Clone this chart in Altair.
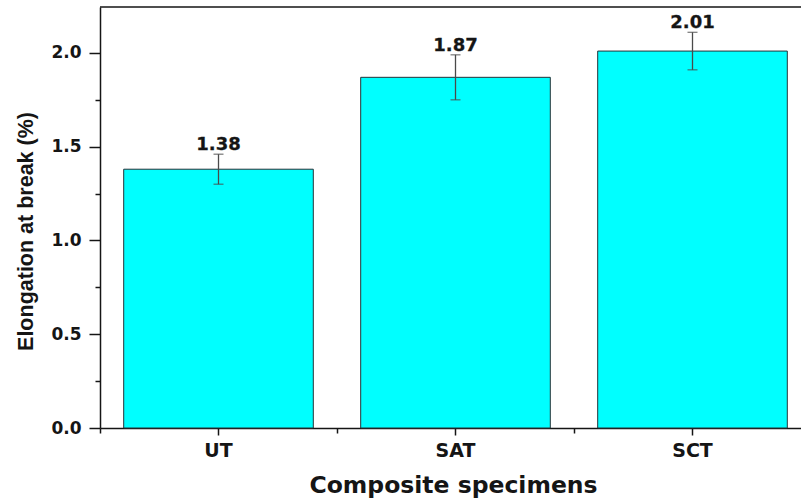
import altair as alt
import pandas as pd

# Elongation at break for the three composite specimens
specimens = ["UT", "SAT", "SCT"]
elongation = [1.38, 1.87, 2.01]
std_dev = [0.08, 0.12, 0.10]

df = pd.DataFrame({
    "specimen": specimens,
    "value": elongation,
    "err": std_dev,
})
df["lo"] = df["value"] - df["err"]
df["hi"] = df["value"] + df["err"]
df["label"] = [f"{v:.2f}" for v in elongation]

INK = "#151515"
LABEL_FONT = "DejaVu Sans"

# band layout: 711 px range, step 237 px, bars 80 % of the step
PAD_INNER = 0.2
PAD_OUTER = 0.1
RANGE_W = 711
STEP = RANGE_W / (len(specimens) - PAD_INNER + 2 * PAD_OUTER)

x_scale = alt.Scale(domain=specimens, range=[0, RANGE_W],
                    paddingInner=PAD_INNER, paddingOuter=PAD_OUTER)
y_scale = alt.Scale(domain=[0, 2.245], nice=False, zero=True)

main_x_axis = alt.Axis(
    orient="bottom", labelAngle=0, tickSize=7, tickWidth=1.5, tickColor=INK,
    domainWidth=1.5, domainColor=INK, labelPadding=6,
    labelFont=LABEL_FONT, labelFontWeight="bold", labelFontSize=19, labelColor=INK,
    title="Composite specimens", titleFont=LABEL_FONT, titleFontWeight="bold",
    titleFontSize=23.5, titleColor=INK, titleX=353, titleY=64,
    titleAlign="center", titleBaseline="alphabetic", grid=False,
)
main_y_axis = alt.Axis(
    orient="left", values=[0, 0.5, 1.0, 1.5, 2.0], format=".1f",
    tickSize=11, tickWidth=1.5, tickColor=INK, domainWidth=1.5, domainColor=INK,
    labelPadding=8, labelFont=LABEL_FONT, labelFontWeight="bold", labelFontSize=17,
    labelColor=INK,
    title="Elongation at break (%)", titleFont="Liberation Sans", titleFontWeight="bold",
    titleFontSize=21.5, titleColor=INK, titleAngle=270, titleX=-68, titleY=224,
    titleAlign="center", titleBaseline="alphabetic", grid=False,
)
# minor ticks on the boundaries between categories
minor_x_axis = alt.Axis(
    orient="bottom", bandPosition=0, tickOffset=-PAD_OUTER * STEP,
    labels=False, domain=False, title=None,
    tickSize=5, tickWidth=1.5, tickColor=INK, grid=False,
)
minor_y_axis = alt.Axis(
    orient="left", values=[0.25, 0.75, 1.25, 1.75], labels=False, domain=False,
    title=None, tickSize=5, tickWidth=1.5, tickColor=INK, grid=False,
)

base = alt.Chart(df)

bars = base.mark_bar(fill="#00FFFF", stroke="#263238", strokeWidth=1).encode(
    x=alt.X("specimen:N", sort=specimens, scale=x_scale, axis=main_x_axis),
    y=alt.Y("value:Q", scale=y_scale, axis=main_y_axis),
)

err_rules = base.mark_rule(color="#4a4a4a", strokeWidth=1.3).encode(
    x=alt.X("specimen:N", sort=specimens, scale=x_scale, axis=minor_x_axis),
    y=alt.Y("lo:Q", scale=y_scale, axis=minor_y_axis),
    y2="hi:Q",
)

err_caps_hi = base.mark_tick(color="#4a4a4a", thickness=1.3, size=10, orient="horizontal").encode(
    x=alt.X("specimen:N", sort=specimens, scale=x_scale, axis=None),
    y=alt.Y("hi:Q", scale=y_scale, axis=None),
)
err_caps_lo = base.mark_tick(color="#4a4a4a", thickness=1.3, size=10, orient="horizontal").encode(
    x=alt.X("specimen:N", sort=specimens, scale=x_scale, axis=None),
    y=alt.Y("lo:Q", scale=y_scale, axis=None),
)

labels = base.mark_text(
    font=LABEL_FONT, fontWeight="bold", fontSize=18, color=INK,
    baseline="alphabetic", dy=-4, stroke=INK, strokeWidth=0.3,
).encode(
    x=alt.X("specimen:N", sort=specimens, scale=x_scale, axis=None),
    y=alt.Y("hi:Q", scale=y_scale, axis=None),
    text="label:N",
)

top_frame = alt.Chart(alt.Data(values=[{"edge": "top"}])).mark_rule(
    color=INK, strokeWidth=1.5
).encode(x=alt.value(0), x2=alt.value(RANGE_W), y=alt.value(0))

chart = (
    alt.layer(bars, err_rules, err_caps_hi, err_caps_lo, labels, top_frame)
    .resolve_axis(x="independent", y="independent")
    .properties(
        width=701, height=421,
        autosize=alt.AutoSizeParams(type="none"),
        padding={"left": 100, "top": 7, "right": 0, "bottom": 74},
        background="white",
    )
    .configure_view(stroke=None)
)

chart.save("out.html", embed_options={"renderer": "svg", "actions": False})
